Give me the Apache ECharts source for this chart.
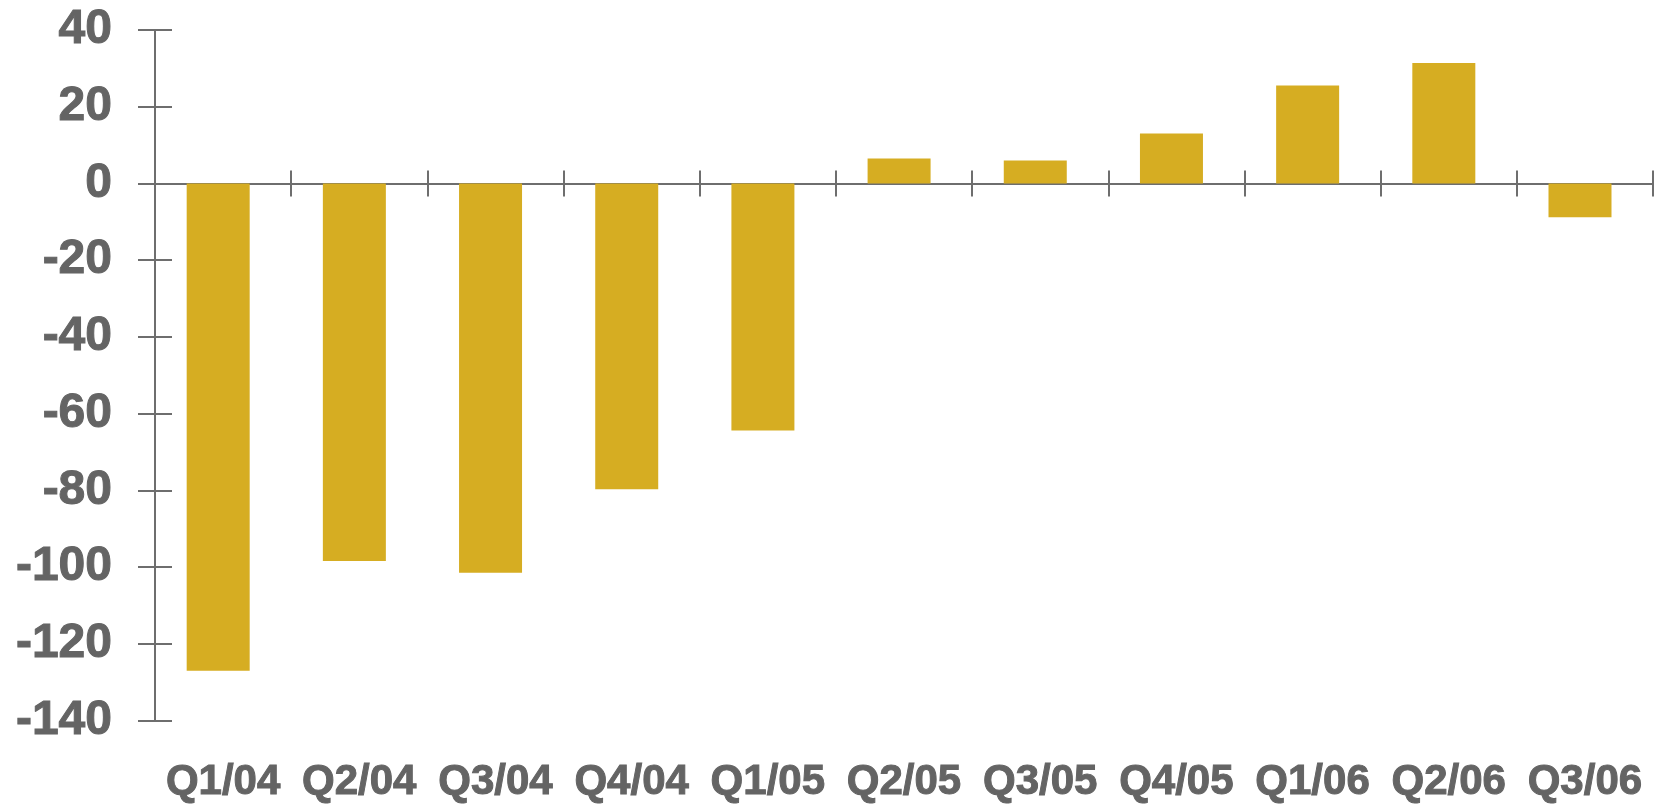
<!DOCTYPE html>
<html>
<head>
<meta charset="utf-8">
<title>Quarterly change</title>
<script src="https://cdn.jsdelivr.net/npm/echarts@6/dist/echarts.min.js"></script>
<style>
  html, body { margin: 0; padding: 0; background: #ffffff; }
  #chart { width: 1656px; height: 804px; }
</style>
</head>
<body>
<div id="chart"></div>
<script>
// Quarters on the category axis
const quarters = ['Q1/04', 'Q2/04', 'Q3/04', 'Q4/04', 'Q1/05', 'Q2/05', 'Q3/05', 'Q4/05', 'Q1/06', 'Q2/06', 'Q3/06'];
// Quarterly values
const values = [-127, -98.4, -101.5, -79.7, -64.4, 6.5, 6.0, 13.0, 25.5, 31.4, -8.8];
// Value axis range and step
const yMin = -140;
const yMax = 40;
const yStep = 20;

const FONT = "'Liberation Sans', Arial, sans-serif";
const TEXT = '#646464';
const LINE = '#6e6e6e';
const BAR = '#D6AD22';

const chart = echarts.init(document.getElementById('chart'), null, { renderer: 'canvas' });

const lineStyle = { color: LINE, width: 2 };
const labelText = {
  fontWeight: 'bold', color: TEXT, fontFamily: FONT,
  textBorderColor: TEXT, textBorderWidth: 1
};

chart.setOption({
  animation: false,
  backgroundColor: '#ffffff',
  grid: { left: 155, right: 3, top: 30, bottom: 81, containLabel: false },
  xAxis: [
    {
      // axis line at zero with ticks pointing down
      type: 'category', data: quarters, position: 'bottom',
      axisLine: { show: true, onZero: true, onZeroAxisIndex: 0, lineStyle: lineStyle },
      axisTick: { show: true, length: 13, interval: 0, lineStyle: lineStyle },
      axisLabel: { show: false },
      splitLine: { show: false }
    },
    {
      // ticks pointing up from the zero line
      type: 'category', data: quarters, position: 'top',
      axisLine: { show: true, onZero: true, onZeroAxisIndex: 0, lineStyle: lineStyle },
      axisTick: { show: true, length: 13, interval: 0, lineStyle: lineStyle },
      axisLabel: { show: false },
      splitLine: { show: false }
    },
    {
      // quarter labels along the bottom edge
      type: 'category', data: quarters, position: 'bottom',
      axisLine: { show: false, onZero: false },
      axisTick: { show: false },
      axisLabel: Object.assign({ show: true, interval: 0, margin: 41, fontSize: 42 }, labelText),
      splitLine: { show: false }
    }
  ],
  yAxis: [
    {
      type: 'value', min: yMin, max: yMax, interval: yStep, position: 'left',
      axisLine: { show: true, onZero: false, lineStyle: lineStyle },
      axisTick: { show: true, length: 17, lineStyle: lineStyle },
      axisLabel: Object.assign({ show: true, margin: 43, fontSize: 48 }, labelText),
      splitLine: { show: false }
    },
    {
      // inner half of the crossing ticks
      type: 'value', min: yMin, max: yMax, interval: yStep, position: 'left',
      axisLine: { show: false, onZero: false },
      axisTick: { show: true, inside: true, length: 17, lineStyle: lineStyle },
      axisLabel: { show: false },
      splitLine: { show: false }
    }
  ],
  series: [
    {
      type: 'bar', xAxisIndex: 0, yAxisIndex: 0,
      data: values,
      barWidth: 63,
      itemStyle: { color: BAR },
      z: 1
    },
    {
      // empty slot that sets the bars slightly off-centre in each band
      type: 'bar', xAxisIndex: 0, yAxisIndex: 0,
      data: [],
      barWidth: 1,
      barGap: '14%'
    }
  ]
});
</script>
</body>
</html>
